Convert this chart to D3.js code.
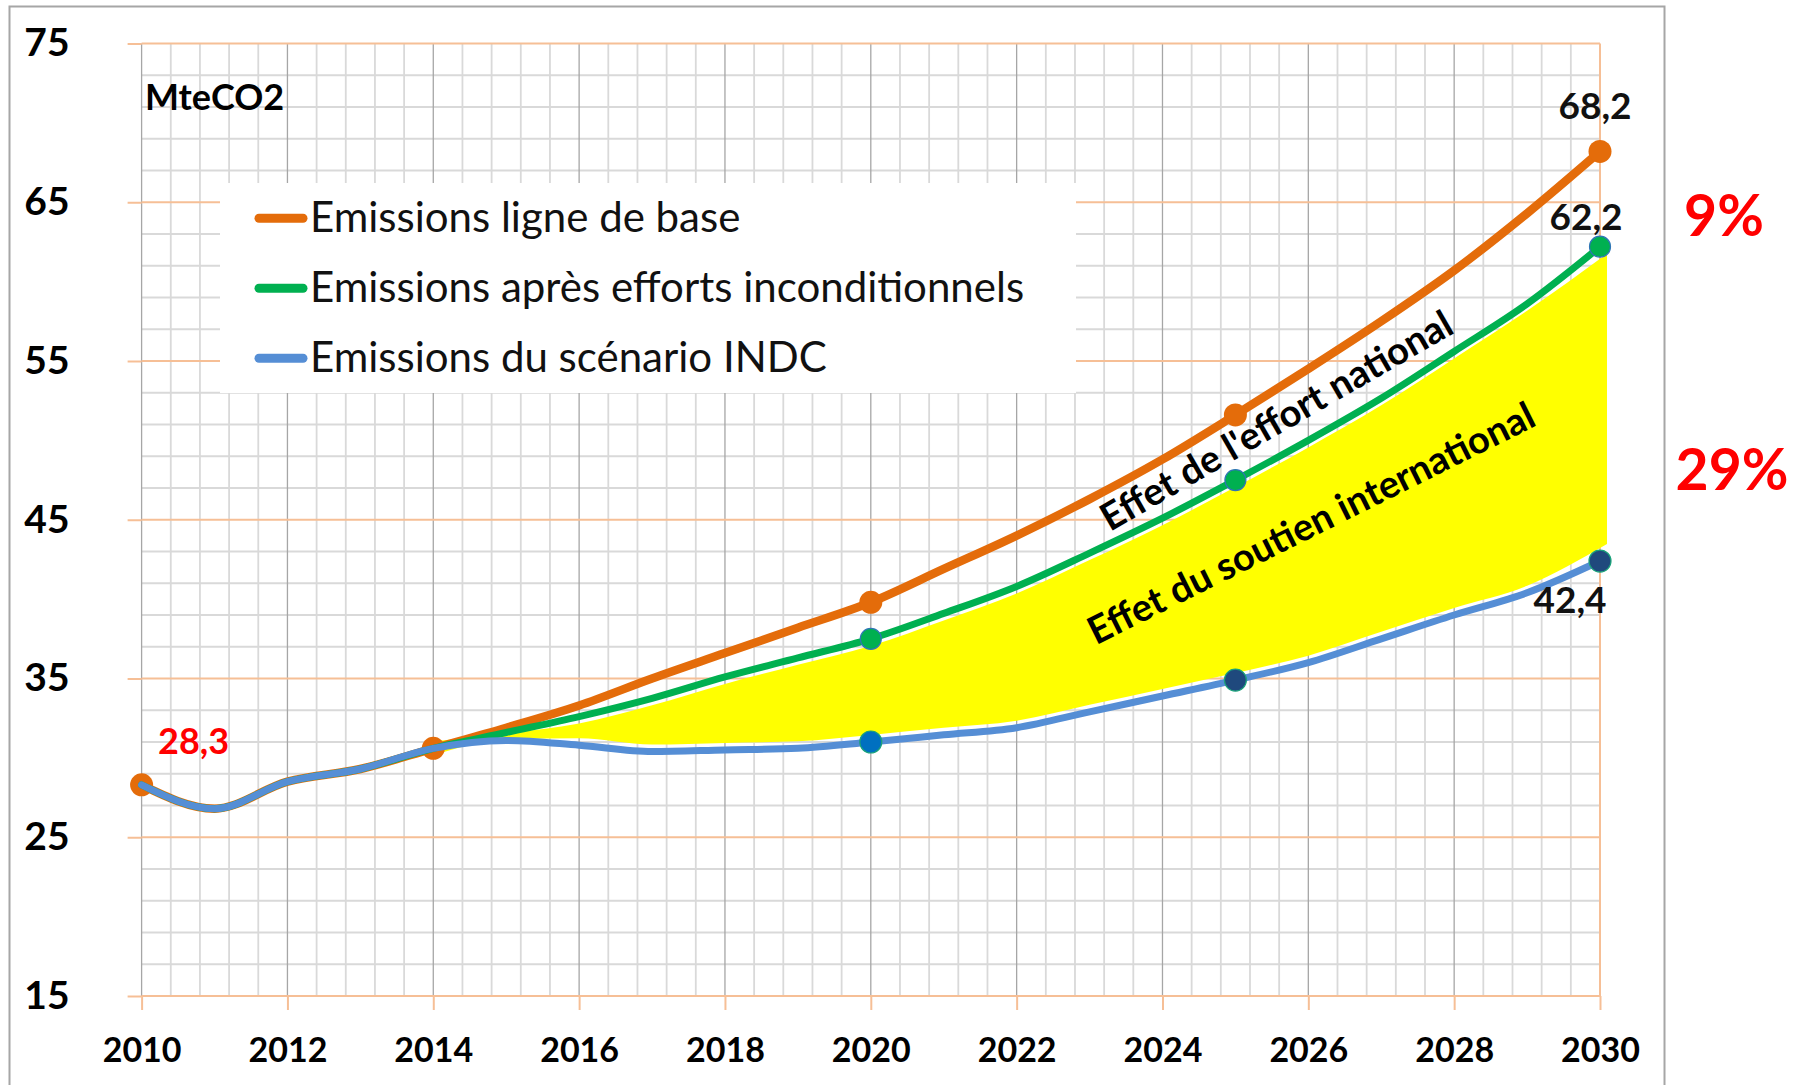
<!DOCTYPE html>
<html>
<head>
<meta charset="utf-8">
<script src="https://cdn.jsdelivr.net/npm/d3@7/dist/d3.min.js"></script>
<style>
  html, body { margin: 0; padding: 0; background: #fff; }
  svg { display: block; font-family: Lato, "Open Sans", sans-serif; }
</style>
</head>
<body>
<svg id="chart" width="1802" height="1085"></svg>
<script>
// ---------- DATA ----------
const years = [2010, 2011, 2012, 2013, 2014, 2015, 2016, 2017, 2018, 2019, 2020,
               2021, 2022, 2023, 2024, 2025, 2026, 2027, 2028, 2029, 2030];
const baseline = [28.3, 26.8, 28.5, 29.3, 30.6, 31.9, 33.3, 35.0, 36.6, 38.2, 39.8,
                  41.9, 44.0, 46.3, 48.8, 51.6, 54.5, 57.5, 60.7, 64.3, 68.2];
const unconditional = [28.3, 26.8, 28.5, 29.3, 30.6, 31.6, 32.6, 33.75, 35.1, 36.3, 37.5,
                       39.1, 40.8, 42.9, 45.1, 47.5, 50.0, 52.65, 55.6, 58.6, 62.2];
const indc = [28.3, 26.8, 28.5, 29.3, 30.6, 31.1, 30.8, 30.4, 30.5, 30.6, 31.0,
              31.45, 31.9, 32.9, 33.9, 34.9, 36.0, 37.5, 39.0, 40.4, 42.4];
const baselineMarkers = [2010, 2014, 2020, 2025, 2030];
const unconditionalMarkers = [2020, 2025, 2030];
const indcMarkers = [2020, 2025, 2030];
const indcMarkerColors = ["#0070c0", "#1f497d", "#1f497d"];
const yTicks = [15, 25, 35, 45, 55, 65, 75];
const xTicks = [2010, 2012, 2014, 2016, 2018, 2020, 2022, 2024, 2026, 2028, 2030];
const legendLabels = ["Emissions ligne de base", "Emissions après efforts inconditionnels", "Emissions du scénario INDC"];
const unitLabel = "MteCO2";
const areaStart = 2014;

// ---------- SETUP ----------
const C = { orange: "#e46c0a", green: "#00b050", blue: "#558ed5", grid: "#d9d9d9",
            gridMajor: "#a6a6a6", gridOrange: "#f6bf96", yellow: "#ffff00", red: "#ff0000" };
const svg = d3.select("#chart");
const x = d3.scaleLinear().domain([2010, 2030]).range([141.6, 1600]);
const y = d3.scaleLinear().domain([15, 75]).range([996, 43.5]);

// outer frame
svg.append("rect").attr("x", 9.5).attr("y", 6.5).attr("width", 1655).attr("height", 1100)
  .attr("fill", "#fff").attr("stroke", "#a6a6a6").attr("stroke-width", 2);

const grid = svg.append("g");
const minorY = d3.range(15, 76, 2).filter(v => !yTicks.includes(v));
grid.selectAll(".mh").data(minorY).join("line")
  .attr("x1", x(2010)).attr("x2", x(2030)).attr("y1", d => y(d)).attr("y2", d => y(d))
  .attr("stroke", C.grid).attr("stroke-width", 1.8);
const minorX = d3.range(0, 51).map(k => 2010 + k * 0.4).filter(v => Math.abs((v - 2010) / 2 - Math.round((v - 2010) / 2)) > 1e-6);
grid.selectAll(".mv").data(minorX).join("line")
  .attr("x1", d => x(d)).attr("x2", d => x(d)).attr("y1", y(75)).attr("y2", y(15))
  .attr("stroke", C.grid).attr("stroke-width", 1.8);
grid.selectAll(".Mv").data(xTicks.filter(v => v !== 2030)).join("line")
  .attr("x1", d => x(d)).attr("x2", d => x(d)).attr("y1", y(75)).attr("y2", y(15))
  .attr("stroke", C.gridMajor).attr("stroke-width", 1.3);
grid.selectAll(".Mh").data(yTicks).join("line")
  .attr("x1", x(2010)).attr("x2", x(2030)).attr("y1", d => y(d)).attr("y2", d => y(d))
  .attr("stroke", C.gridOrange).attr("stroke-width", 2);
grid.append("line").attr("x1", x(2030)).attr("x2", x(2030)).attr("y1", y(75)).attr("y2", y(15))
  .attr("stroke", C.gridOrange).attr("stroke-width", 2);

// axes
const yAxis = svg.append("g").attr("transform", `translate(${x(2010)},0)`)
  .call(d3.axisLeft(y).tickValues(yTicks).tickSize(14).tickPadding(58));
const xAxis = svg.append("g").attr("transform", `translate(0,${y(15)})`)
  .call(d3.axisBottom(x).tickValues(xTicks).tickFormat(d3.format("d")).tickSize(14).tickPadding(28));
[yAxis, xAxis].forEach(a => {
  a.select(".domain").remove();
  a.selectAll(".tick line").attr("stroke", C.gridOrange).attr("stroke-width", 2);
  a.selectAll(".tick text").attr("fill", "#000").attr("font-family", "Lato").attr("font-weight", 700);
});
yAxis.selectAll(".tick text").attr("font-size", 39);
xAxis.selectAll(".tick text").attr("font-size", 34);

// legend box
const lg = svg.append("g");
lg.append("rect").attr("x", 220).attr("y", 183).attr("width", 856).attr("height", 210).attr("fill", "#fff");
const legColors = [C.orange, C.green, C.blue];
legendLabels.forEach((t, i) => {
  const ly = 218.3 + i * 70;
  lg.append("line").attr("x1", 259).attr("x2", 303).attr("y1", ly).attr("y2", ly)
    .attr("stroke", legColors[i]).attr("stroke-width", 9).attr("stroke-linecap", "round");
  lg.append("text").attr("x", 310).attr("y", ly + 13.5).attr("font-size", 42)
    .attr("font-family", "Lato").attr("fill", "#111").text(t);
});

svg.append("text").attr("x", 145).attr("y", 110).attr("font-size", 36).attr("font-weight", 700)
  .attr("font-family", "Lato").attr("fill", "#000").text(unitLabel);

// yellow area between green and blue
const inset = 7;
const areaData = years.map((yr, i) => ({ yr, g: unconditional[i], b: indc[i] })).filter(d => d.yr >= areaStart);
const lastI = areaData.length - 1;
const area = d3.area().curve(d3.curveMonotoneX)
  .x((d, i) => x(d.yr) + (i === lastI ? inset : 0))
  .y0((d, i) => Math.max(y(d.b) - inset - (i === lastI ? 10 : 0), y(d.g) + inset))
  .y1(d => Math.min(y(d.g) + inset, y(d.b) - inset));
svg.append("path").datum(areaData).attr("d", area).attr("fill", C.yellow);

// lines
const line = d3.line().curve(d3.curveMonotoneX).x(d => x(d[0])).y(d => y(d[1]));
function drawLine(vals, color, w) {
  svg.append("path").datum(years.map((yr, i) => [yr, vals[i]]))
    .attr("d", line).attr("fill", "none").attr("stroke", color).attr("stroke-width", w)
    .attr("stroke-linejoin", "round").attr("stroke-linecap", "round");
}
function drawMarkers(vals, mYears, colors, r, stroke) {
  svg.append("g").selectAll("circle").data(mYears).join("circle")
    .attr("cx", d => x(d)).attr("cy", d => y(vals[years.indexOf(d)])).attr("r", r)
    .attr("fill", (d, i) => Array.isArray(colors) ? colors[i] : colors)
    .attr("stroke", stroke || "none").attr("stroke-width", 1.2);
}
drawLine(baseline, C.orange, 8.5);
drawMarkers(baseline, baselineMarkers, C.orange, 11.5);
drawLine(unconditional, C.green, 7);
drawMarkers(unconditional, unconditionalMarkers, C.green, 10.5, "#2e75b6");
drawLine(indc, C.blue, 7);
drawMarkers(indc, indcMarkers, indcMarkerColors, 11, "#1aa37a");

// value labels
function label(txt, px, py, size, color, anchor) {
  svg.append("text").attr("x", px).attr("y", py).attr("font-size", size).attr("font-weight", 700)
    .attr("font-family", "Lato").attr("fill", color).attr("text-anchor", anchor || "middle").text(txt);
}
const fmt = v => String(v).replace(".", ",");
label(fmt(baseline[0]), x(2010) + 52, y(baseline[0]) - 31, 36, C.red);
label(fmt(baseline[20]), x(2030) - 5, y(baseline[20]) - 32, 37, "#111");
label(fmt(unconditional[20]), x(2030) - 14, y(unconditional[20]) - 17, 37, "#111");
label(fmt(indc[20]), x(2030) - 30, y(indc[20]) + 52, 37, "#111");
label("9%", 1724, 236, 57, C.red);
label("29%", 1732, 490, 57, C.red);

// rotated annotations
svg.append("text").attr("transform", `translate(${x(2023.28)},${y(44.23)}) rotate(-30)`)
  .attr("font-size", 38).attr("font-weight", 700).attr("font-family", "Lato").attr("fill", "#000")
  .text("Effet de l'effort national");
svg.append("text").attr("transform", `translate(${x(2023.09)},${y(37.1)}) rotate(-26.5)`)
  .attr("font-size", 38).attr("font-weight", 700).attr("font-family", "Lato").attr("fill", "#000")
  .text("Effet du soutien international");
</script>
</body>
</html>
